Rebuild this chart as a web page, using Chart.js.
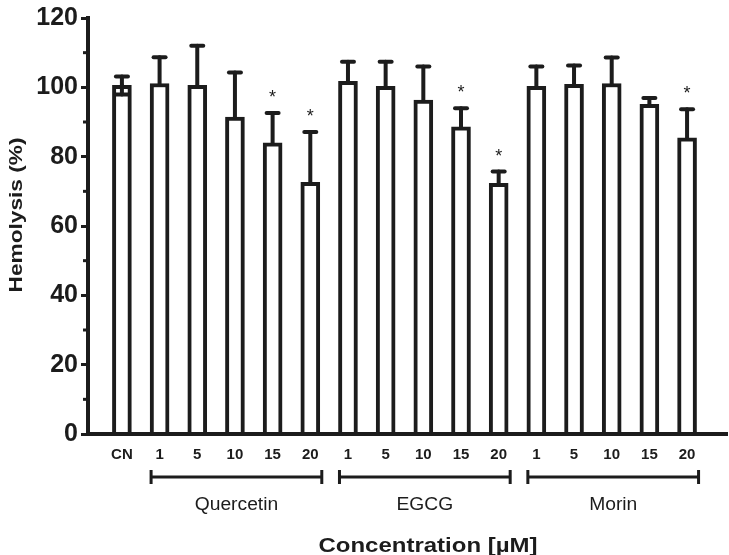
<!DOCTYPE html>
<html>
<head>
<meta charset="utf-8">
<script src="https://cdn.jsdelivr.net/npm/chart.js@4.4.1/dist/chart.umd.min.js"></script>
<style>
  html, body { margin: 0; padding: 0; background: #fff; }
  #wrap { width: 729px; height: 555px; }
</style>
</head>
<body>
<div id="wrap"><canvas id="myChart"></canvas></div>
<script>
const categories = ["CN", "1", "5", "10", "15", "20", "1", "5", "10", "15", "20", "1", "5", "10", "15", "20"];
const means = [100.6, 101.1, 100.6, 91.4, 84.0, 72.6, 101.7, 100.3, 96.3, 88.6, 72.3, 100.3, 100.9, 101.1, 95.1, 85.4];
const errUp = [2.5, 7.6, 11.4, 12.9, 8.6, 14.5, 5.7, 7.1, 9.7, 5.4, 3.4, 5.7, 5.4, 7.5, 1.8, 8.3];
const errDown = [2.7, 0, 0, 0, 0, 0, 0, 0, 0, 0, 0, 0, 0, 0, 0, 0];
const marks = ["", "", "", "", "*", "*", "", "", "", "*", "*", "", "", "", "", "*"];
const groupNames = ["Quercetin", "EGCG", "Morin"];
const groupFirst = [1, 6, 11];
const groupLast = [5, 10, 15];
const yTickLabels = [0, 20, 40, 60, 80, 100, 120];

const ink = "#1c1c1c";
const family = "'Liberation Sans', Arial, Helvetica, sans-serif";

// text drawn with a horizontal stretch so it fills the given width
function stretchText(ctx, text, x, y, font, width, angle) {
  ctx.save();
  ctx.font = font;
  const w = ctx.measureText(text).width;
  ctx.translate(x, y);
  if (angle) ctx.rotate(angle);
  ctx.scale(width / w, 1);
  ctx.textAlign = "center";
  ctx.fillText(text, 0, 0);
  ctx.restore();
}

const extras = {
  id: "extras",
  afterDatasetsDraw(chart) {
    const ctx = chart.ctx;
    const xs = chart.scales.x;
    const ys = chart.scales.y;
    const bars = chart.getDatasetMeta(0).data;
    ctx.save();
    ctx.strokeStyle = ink;
    ctx.fillStyle = ink;
    ctx.lineCap = "round";

    // error bars
    bars.forEach((bar, i) => {
      const x = bar.x;
      const top = ys.getPixelForValue(means[i]);
      const up = ys.getPixelForValue(means[i] + errUp[i]);
      ctx.lineWidth = 4;
      ctx.beginPath();
      ctx.moveTo(x, top);
      ctx.lineTo(x, up);
      ctx.stroke();
      ctx.beginPath();
      ctx.moveTo(x - 6, up);
      ctx.lineTo(x + 6, up);
      ctx.stroke();
      if (errDown[i]) {
        const low = ys.getPixelForValue(means[i] - errDown[i]);
        ctx.beginPath();
        ctx.moveTo(x, top);
        ctx.lineTo(x, low);
        ctx.stroke();
        ctx.beginPath();
        ctx.moveTo(x - 6, low);
        ctx.lineTo(x + 6, low);
        ctx.stroke();
      }
      if (marks[i]) {
        ctx.font = "18px " + family;
        ctx.textAlign = "center";
        ctx.textBaseline = "alphabetic";
        ctx.fillText(marks[i], x, up - 10);
      }
    });

    // group brackets and names
    const by = xs.top + 43;
    ctx.lineCap = "butt";
    ctx.lineWidth = 3;
    groupNames.forEach((name, g) => {
      const x0 = xs.getPixelForValue(groupFirst[g] + 1) - 10;
      const x1 = xs.getPixelForValue(groupLast[g] + 1) + 13;
      ctx.beginPath();
      ctx.moveTo(x0, by);
      ctx.lineTo(x1, by);
      ctx.moveTo(x0 + 1.5, by - 7);
      ctx.lineTo(x0 + 1.5, by + 7);
      ctx.moveTo(x1 - 1.5, by - 7);
      ctx.lineTo(x1 - 1.5, by + 7);
      ctx.stroke();
      ctx.textBaseline = "alphabetic";
      const f = "18px " + family;
      ctx.font = f;
      stretchText(ctx, name, (x0 + x1) / 2, by + 33, f, ctx.measureText(name).width * 1.07);
    });

    // minor y ticks are a bit shorter than the labelled ones
    ctx.lineWidth = 3;
    ys.ticks.forEach((t) => {
      if (yTickLabels.includes(t.value)) return;
      const py = ys.getPixelForValue(t.value);
      ctx.beginPath();
      ctx.moveTo(ys.right - 5, py);
      ctx.lineTo(ys.right, py);
      ctx.stroke();
    });

    // axis titles
    ctx.textBaseline = "alphabetic";
    stretchText(ctx, "Concentration [µM]", 428, 552, "bold 21px " + family, 219);
    stretchText(ctx, "Hemolysis (%)", 22, 215, "bold 18px " + family, 155, -Math.PI / 2);
    ctx.restore();
  }
};

new Chart(document.getElementById("myChart"), {
  type: "bar",
  data: {
    datasets: [{
      data: means.map((v, i) => ({ x: i + 1, y: v })),
      backgroundColor: "#ffffff",
      borderColor: ink,
      borderWidth: 4,
      barThickness: 19,
    }],
  },
  options: {
    responsive: true,
    maintainAspectRatio: false,
    animation: false,
    layout: { padding: { top: 14, right: 2, left: 0, bottom: 0 } },
    plugins: { legend: { display: false }, tooltip: { enabled: false } },
    scales: {
      x: {
        type: "linear",
        min: 0.1,
        max: 17.06,
        offset: false,
        afterFit: (s) => { s.height = 121; },
        afterBuildTicks: (s) => { s.ticks = categories.map((c, i) => ({ value: i + 1 })); },
        grid: { display: false, drawTicks: false },
        border: { display: true, color: ink, width: 4, z: 1 },
        ticks: {
          autoSkip: false,
          maxRotation: 0,
          padding: 12,
          color: ink,
          font: { family: family, size: 15, weight: "bold" },
          callback: (v) => categories[Math.round(v) - 1] || "",
        },
      },
      y: {
        min: 0,
        max: 120,
        afterFit: (s) => { s.width = 88; },
        grid: {
          drawOnChartArea: false,
          drawTicks: true,
          tickLength: 7,
          tickWidth: 3,
          tickColor: (c) => (yTickLabels.includes(c.tick.value) ? ink : "rgba(0,0,0,0)"),
        },
        border: { display: true, color: ink, width: 4 },
        ticks: {
          stepSize: 10,
          padding: 3,
          color: ink,
          font: { family: family, size: 25, weight: "bold" },
          callback: (v) => (yTickLabels.includes(v) ? v : ""),
        },
      },
    },
  },
  plugins: [extras],
});
</script>
</body>
</html>
